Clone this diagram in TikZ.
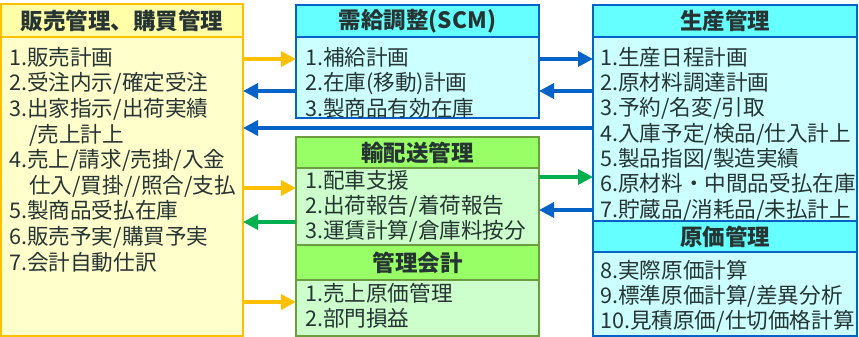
\documentclass[tikz,border=0pt]{standalone}
\usepackage{fontspec}
\newfontfamily\jp{Noto Sans CJK JP}
\usetikzlibrary{arrows.meta}
\definecolor{ylwB}{HTML}{FFC000}
\definecolor{ylwH}{HTML}{FFFFA8}
\definecolor{ylwF}{HTML}{FFFFCC}
\definecolor{bluB}{HTML}{0563C8}
\definecolor{bluH}{HTML}{66FFFF}
\definecolor{bluF}{HTML}{CCFFFF}
\definecolor{grnB}{HTML}{6A9E3E}
\definecolor{grnH}{HTML}{99FF66}
\definecolor{grnF}{HTML}{CCFFCC}
\definecolor{grnA}{HTML}{00B050}
\definecolor{txtC}{RGB}{38,52,52}
\begin{document}
\begin{tikzpicture}[x=1pt,y=-1pt,
  box/.style={anchor=north west, inner sep=0pt, outer sep=0pt, line width=2pt},
  hdr/.style={box, font=\jp\bfseries\fontsize{22.5}{26}\selectfont, text=txtC},
  bodytxt/.style={anchor=west, inner sep=0pt, text height=19pt, text depth=2.6pt,
     font=\jp\fontsize{21.6}{25}\selectfont, text=txtC},
  arr/.style={line width=3.5pt, -{Triangle[length=15pt,width=15pt]}},
  oarr/.style={arr, draw=ylwB},
  barr/.style={arr, draw=bluB},
  garr/.style={arr, draw=grnA}]
\useasboundingbox (0,0) rectangle (859,337);
% left box
\node[box, draw=ylwB, fill=ylwF, minimum width=242pt, minimum height=299pt] (LB) at (1,37) {};
\node[hdr, draw=ylwB, fill=ylwH, minimum width=242pt, minimum height=33pt] (LH) at (1,4) {販売管理、購買管理};
% SCM
\node[box, draw=bluB, fill=bluF, minimum width=243pt, minimum height=81pt] (SB) at (296,37) {};
\node[hdr, draw=bluB, fill=bluH, minimum width=243pt, minimum height=32pt] (SH) at (296,5) {需給調整(SCM)};
% transport
\node[box, draw=grnB, fill=grnF, minimum width=243pt, minimum height=77pt] (TB) at (296,168) {};
\node[hdr, draw=grnB, fill=grnH, minimum width=243pt, minimum height=31pt] (TH) at (296,137) {輸配送管理};
% management accounting
\node[box, draw=grnB, fill=grnF, minimum width=243pt, minimum height=56pt] (MB) at (296,280) {};
\node[hdr, draw=grnB, fill=grnH, minimum width=243pt, minimum height=35pt] (MH) at (296,245) {管理会計};
% production
\node[box, draw=bluB, fill=bluF, minimum width=264pt, minimum height=184pt] (RB) at (593,37) {};
\node[hdr, draw=bluB, fill=bluH, minimum width=264pt, minimum height=32pt] (RH) at (593,5) {生産管理};
% cost
\node[box, draw=bluB, fill=bluF, minimum width=264pt, minimum height=84pt] (CB) at (593,252) {};
\node[hdr, draw=bluB, fill=bluH, minimum width=264pt, minimum height=31pt] (CH) at (593,221) {原価管理};
% texts left
\node[bodytxt] (l1) at (9,57) {1.販売計画};
\node[bodytxt] (l2) at (9,82.6) {2.受注内示/確定受注};
\node[bodytxt] (l3) at (9,108.2) {3.出家指示/出荷実績};
\node[bodytxt] (l3b) at (29,133.8) {/売上計上};
\node[bodytxt] (l4) at (9,159.4) {4.売上/請求/売掛/入金};
\node[bodytxt] (l4b) at (29,185) {仕入/買掛//照合/支払};
\node[bodytxt] (l5) at (9,210.6) {5.製商品受払在庫};
\node[bodytxt] (l6) at (9,236.2) {6.販売予実/購買予実};
\node[bodytxt] (l7) at (9,261.8) {7.会計自動仕訳};
% texts SCM
\node[bodytxt] (s1) at (305,57) {1.補給計画};
\node[bodytxt] (s2) at (305,82.6) {2.在庫(移動)計画};
\node[bodytxt] (s3) at (305,108) {3.製商品有効在庫};
% texts transport
\node[bodytxt] (t1) at (305,180) {1.配車支援};
\node[bodytxt] (t2) at (305,205) {2.出荷報告/着荷報告};
\node[bodytxt] (t3) at (305,230) {3.運賃計算/倉庫料按分};
% texts management accounting
\node[bodytxt] (m1) at (305,293) {1.売上原価管理};
\node[bodytxt] (m2) at (305,318) {2.部門損益};
% texts production
\node[bodytxt] (r1) at (600,57) {1.生産日程計画};
\node[bodytxt] (r2) at (600,82.3) {2.原材料調達計画};
\node[bodytxt] (r3) at (600,107.6) {3.予約/名変/引取};
\node[bodytxt] (r4) at (600,132.9) {4.入庫予定/検品/仕入計上};
\node[bodytxt] (r5) at (600,158.2) {5.製品指図/製造実績};
\node[bodytxt] (r6) at (600,183.5) {6.原材料・中間品受払在庫};
\node[bodytxt] (r7) at (600,208.8) {7.貯蔵品/消耗品/未払計上};
% texts cost
\node[bodytxt] (c1) at (600,270) {8.実際原価計算};
\node[bodytxt] (c2) at (600,295) {9.標準原価計算/差異分析};
\node[bodytxt] (c3) at (600,320) {10.見積原価/仕切価格計算};
% arrow levels
\coordinate (a1) at (0,59);
\coordinate (a2) at (0,91);
\coordinate (a3) at (0,128);
\coordinate (a4) at (0,177);
\coordinate (a5) at (0,188);
\coordinate (a6) at (0,210);
\coordinate (a7) at (0,222);
\coordinate (a8) at (0,302);
% arrows
\draw[oarr] (LB.east |- a1) -- (SB.west |- a1);
\draw[barr] (SB.west |- a2) -- (LB.east |- a2);
\draw[barr] (RB.west |- a3) -- (LB.east |- a3);
\draw[oarr] (LB.east |- a5) -- (TB.west |- a5);
\draw[garr] (TB.west |- a7) -- (LB.east |- a7);
\draw[oarr] (LB.east |- a8) -- (MB.west |- a8);
\draw[barr] (SB.east |- a1) -- (RB.west |- a1);
\draw[barr] (RB.west |- a2) -- (SB.east |- a2);
\draw[garr] (TB.east |- a4) -- (RB.west |- a4);
\draw[barr] (RB.west |- a6) -- (TB.east |- a6);
\end{tikzpicture}
\end{document}
